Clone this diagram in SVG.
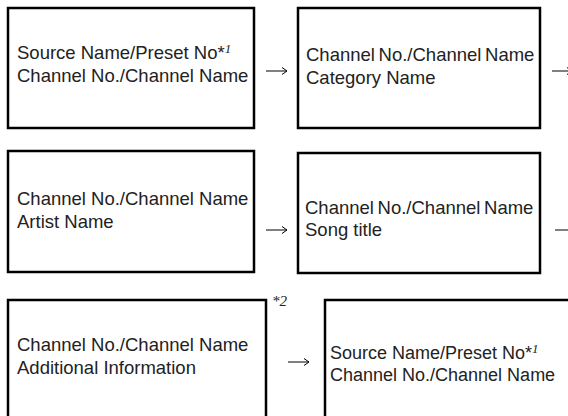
<svg xmlns="http://www.w3.org/2000/svg" width="568" height="416" viewBox="0 0 568 416">
<style>
.box{fill:#fff;stroke:#000;stroke-width:2.5}
.t{font-family:"Liberation Sans",Arial,sans-serif;font-size:18.5px;fill:#222}
.tight{word-spacing:-1.5px}
.s18{font-size:18px}
.sup{font-family:"Liberation Serif","Times New Roman",serif;font-style:italic;font-size:13px;fill:#222}
.fn{font-family:"Liberation Serif","Times New Roman",serif;font-style:italic;font-size:15px;fill:#222}
.con{fill:none;stroke:#000;stroke-width:1}
</style>
<rect width="568" height="416" fill="#fff"/>
<g id="n1">
<rect class="box" x="8" y="8" width="246" height="120"/>
<text class="t" x="17" y="59">Source Name/Preset No*<tspan class="sup" dy="-6">1</tspan></text>
<text class="t" x="17" y="82">Channel No./Channel Name</text>
</g>
<g id="n2">
<rect class="box" x="298" y="8" width="242" height="120"/>
<text class="t tight" x="306" y="61">Channel No./Channel Name</text>
<text class="t" x="306" y="84">Category Name</text>
</g>
<g id="n3">
<rect class="box" x="8" y="151" width="246" height="121"/>
<text class="t" x="17" y="205">Channel No./Channel Name</text>
<text class="t" x="17" y="228">Artist Name</text>
</g>
<g id="n4">
<rect class="box" x="298" y="153" width="242" height="120"/>
<text class="t tight" x="305" y="214">Channel No./Channel Name</text>
<text class="t" x="305" y="236">Song title</text>
</g>
<g id="n5">
<rect class="box" x="8" y="300" width="258" height="130"/>
<text class="t" x="17" y="351">Channel No./Channel Name</text>
<text class="t" x="17" y="374">Additional Information</text>
<text class="fn" x="272" y="306">*2</text>
</g>
<g id="n6">
<rect class="box" x="325" y="300" width="260" height="130"/>
<text class="t s18" x="330" y="359">Source Name/Preset No*<tspan class="sup" dy="-6">1</tspan></text>
<text class="t s18" x="330" y="381">Channel No./Channel Name</text>
</g>
<g id="connectors">
<path class="con" d="M266 71H287M282 67.5L287 71L282 74.5"/>
<path class="con" d="M552 71H572M567 67.5L572 71L567 74.5"/>
<path class="con" d="M266 230H287M282 226.5L287 230L282 233.5"/>
<path class="con" d="M555 230H575"/>
<path class="con" d="M288 362H309M304 358.5L309 362L304 365.5"/>
</g>
</svg>
